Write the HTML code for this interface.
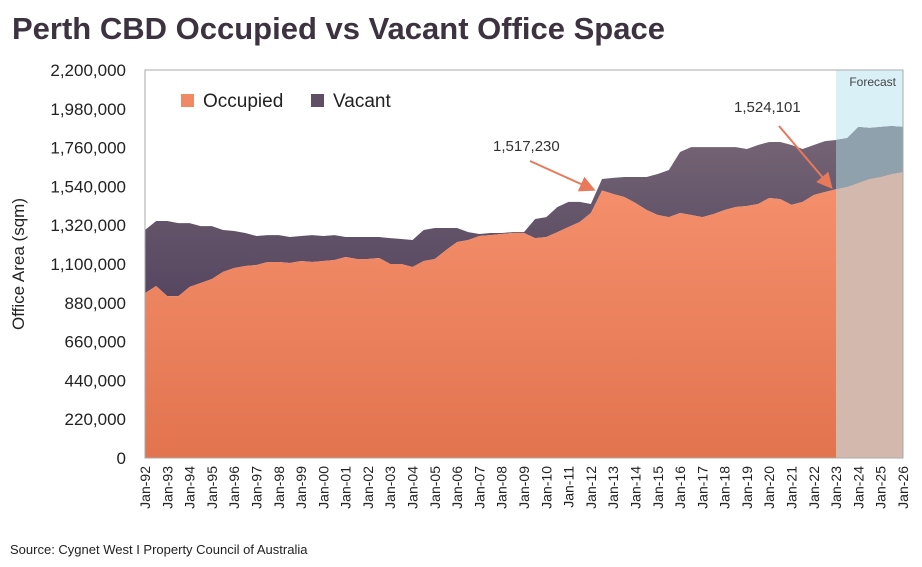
<!DOCTYPE html>
<html><head><meta charset="utf-8"><style>
body{margin:0;background:#fff;font-family:"Liberation Sans",sans-serif;}
svg text{font-family:"Liberation Sans",sans-serif;}
</style></head><body>
<svg id="c" width="922" height="562" xmlns="http://www.w3.org/2000/svg">
<defs>
<linearGradient id="go" x1="0" y1="0" x2="0" y2="1"><stop offset="0" stop-color="#f5906d"/><stop offset="1" stop-color="#e2744f"/></linearGradient>
<linearGradient id="gv" x1="0" y1="0" x2="0" y2="1"><stop offset="0" stop-color="#766676"/><stop offset="1" stop-color="#564660"/></linearGradient>
<clipPath id="fc"><rect x="836" y="60" width="70" height="400"/></clipPath>
<marker id="ah" markerWidth="8" markerHeight="8" refX="6" refY="4" orient="auto"><path d="M0,0 L8,4 L0,8 z" fill="#e8795a"/></marker>
</defs>
<text x="12" y="39" font-size="31" font-weight="bold" fill="#3d3340">Perth CBD Occupied vs Vacant Office Space</text>
<rect x="836" y="70" width="67" height="388" fill="#d8f0f6"/>
<g id="plot"></g>
<rect x="145" y="70" width="758" height="388" fill="none" stroke="#aaa" stroke-width="1"/>
<text x="896" y="86" font-size="12" fill="#444" text-anchor="end">Forecast</text>
<rect x="181" y="94" width="13" height="13" fill="#f08a66"/>
<text x="203" y="107" font-size="19" fill="#222">Occupied</text>
<rect x="311" y="94" width="13" height="13" fill="#5f4f65"/>
<text x="333" y="107" font-size="19" fill="#222">Vacant</text>
<text x="493" y="151" font-size="15" fill="#333">1,517,230</text>
<line x1="530" y1="161" x2="592" y2="189" stroke="#e8795a" stroke-width="2" marker-end="url(#ah)"/>
<text x="734" y="112" font-size="15" fill="#333">1,524,101</text>
<line x1="779" y1="126" x2="830" y2="186" stroke="#e8795a" stroke-width="2" marker-end="url(#ah)"/>
<text transform="translate(24,264) rotate(-90)" font-size="17" fill="#222" text-anchor="middle">Office Area (sqm)</text>
<text x="10" y="554" font-size="13" fill="#222">Source: Cygnet West I Property Council of Australia</text>
<g id="axes"></g>
</svg>
<script>
const occupied=[935,975,918,918,970,992,1015,1055,1077,1089,1094,1111,1111,1106,1117,1111,1117,1123,1140,1128,1128,1134,1100,1100,1083,1117,1128,1179,1225,1236,1259,1264,1270,1276,1276,1247,1253,1281,1310,1338,1389,1517,1497,1480,1446,1406,1378,1366,1389,1378,1366,1383,1406,1423,1429,1440,1474,1468,1435,1452,1491,1508,1524,1537,1559,1582,1593,1610,1622];
const vacant=[358,369,426,414,362,323,300,238,210,187,165,153,153,147,142,153,142,141,113,125,125,119,147,142,153,176,176,125,79,45,11,12,6,5,5,108,113,142,142,114,51,65,91,113,147,187,232,267,346,385,397,380,357,340,323,335,318,324,340,300,284,289,279,277,318,289,284,272,255];
const yTicks=[0,220000,440000,660000,880000,1100000,1320000,1540000,1760000,1980000,2200000];
const startYear=1992;
const NS="http://www.w3.org/2000/svg";
const X0=145,X1=903,Y0=458,Y1=70,YMAX=2200000;
const n=occupied.length;
const x=i=>X0+(X1-X0)*i/(n-1);
const y=v=>Y0-(Y0-Y1)*v/YMAX;
const plot=document.getElementById('plot'),axes=document.getElementById('axes');
function areaPath(lo,hi){let d='';for(let i=0;i<n;i++)d+=(i?'L':'M')+x(i)+','+y(hi[i]);for(let i=n-1;i>=0;i--)d+='L'+x(i)+','+y(lo[i]);return d+'Z';}
const zero=occupied.map(()=>0),occ=occupied.map(v=>v*1000),tot=occupied.map((v,i)=>(v+vacant[i])*1000);
function draw(fillV,fillO,clip,suffix){
 const g=document.createElementNS(NS,'g');if(clip)g.setAttribute('clip-path','url(#fc)');
 const pv=document.createElementNS(NS,'path');pv.setAttribute('d',areaPath(occ,tot));pv.setAttribute('fill',fillV);
 
 
 const po=document.createElementNS(NS,'path');po.setAttribute('d',areaPath(zero,occ));po.setAttribute('fill',fillO);
 
 
 g.appendChild(pv);g.appendChild(po);plot.appendChild(g);
}
draw('url(#gv)','url(#go)',false,'');
draw('#8fa1ad','#d3b9ad',true,'-forecast');
yTicks.forEach(v=>{const t=document.createElementNS(NS,'text');t.setAttribute('x',126);t.setAttribute('y',y(v)+6);t.setAttribute('font-size','17');t.setAttribute('text-anchor','end');t.setAttribute('fill','#222');t.textContent=v.toLocaleString('en-US');
 
 
 axes.appendChild(t);});
for(let i=0;i<n;i+=2){const yr=String((startYear+i/2)%100).padStart(2,'0');const t=document.createElementNS(NS,'text');
 t.setAttribute('transform','translate('+(x(i)+5)+',466) rotate(-90)');t.setAttribute('font-size','14');t.setAttribute('text-anchor','end');t.setAttribute('fill','#222');t.textContent='Jan-'+yr;
 
 
 axes.appendChild(t);}
</script>
</body></html>
